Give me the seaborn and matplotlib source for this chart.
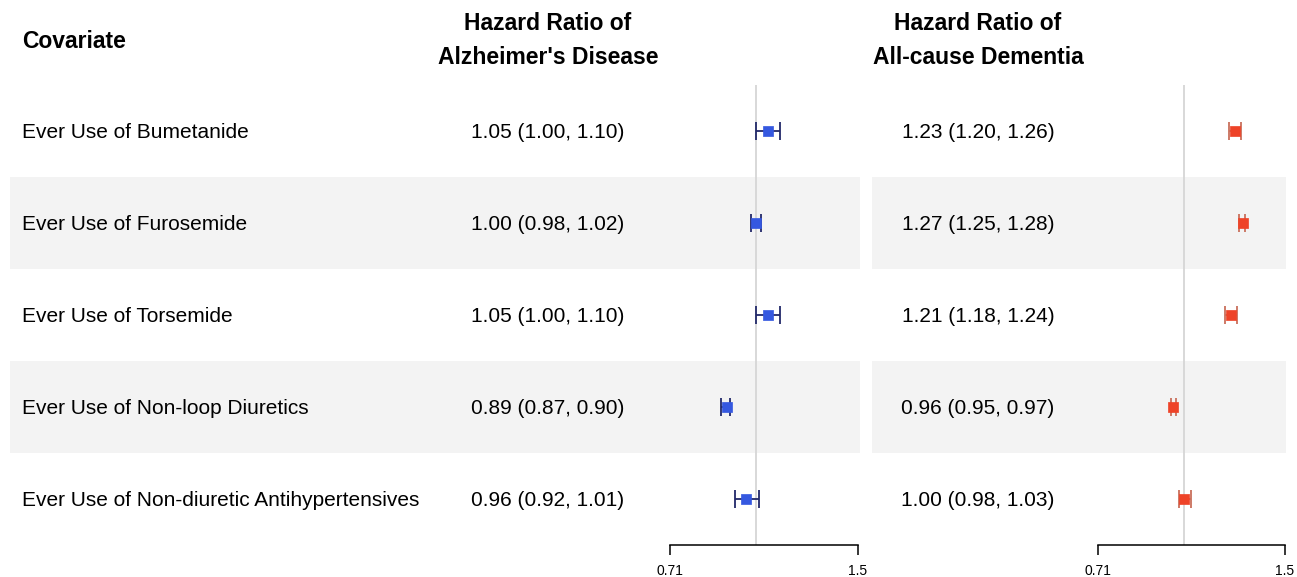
import numpy as np
import pandas as pd
import matplotlib
matplotlib.use("Agg")
import matplotlib.pyplot as plt
import seaborn as sns
from matplotlib.patches import Rectangle
from matplotlib.ticker import FixedLocator, NullLocator

# data
covariates = ["Ever Use of Bumetanide",
              "Ever Use of Furosemide",
              "Ever Use of Torsemide",
              "Ever Use of Non-loop Diuretics",
              "Ever Use of Non-diuretic Antihypertensives"]
ad_hr = [1.05, 1.00, 1.05, 0.89, 0.96]
ad_lo = [1.00, 0.98, 1.00, 0.87, 0.92]
ad_hi = [1.10, 1.02, 1.10, 0.90, 1.01]
dem_hr = [1.23, 1.27, 1.21, 0.96, 1.00]
dem_lo = [1.20, 1.25, 1.18, 0.95, 0.98]
dem_hi = [1.26, 1.28, 1.24, 0.97, 1.03]
x_ticks = [0.71, 1.5]
x_tick_labels = ["0.71", "1.5"]

sns.set_theme(style="white")
plt.rcParams['font.family'] = ['Liberation Sans', 'DejaVu Sans']
plt.rcParams['text.color'] = 'black'

W, H = 1297, 577
fig = plt.figure(figsize=(W / 100, H / 100), dpi=100)

# background axes in pixel units
bg = fig.add_axes([0, 0, 1, 1])
bg.set_xlim(0, W)
bg.set_ylim(H, 0)
bg.axis("off")

row0, step = 131, 92  # pixel centre of first row, row height
n = len(covariates)

def row_px(i):
    return row0 + step * i

# shaded bands on every second row
for i in range(n):
    if i % 2 == 1:
        top = row_px(i) - step / 2
        bg.add_patch(Rectangle((10, top), 850, step, color="#f3f3f3", lw=0, zorder=0))
        bg.add_patch(Rectangle((872, top), 414, step, color="#f3f3f3", lw=0, zorder=0))

# headers
hfs = 16.5
bg.text(22, 42, "Covariate", fontsize=hfs, fontweight="bold", va="center", ha="left")
bg.text(548, 23, "Hazard Ratio of", fontsize=hfs, fontweight="bold", va="center", ha="center")
bg.text(548, 58, "Alzheimer's Disease", fontsize=hfs, fontweight="bold", va="center", ha="center")
bg.text(978, 23, "Hazard Ratio of", fontsize=hfs, fontweight="bold", va="center", ha="center")
bg.text(978, 58, "All-cause Dementia", fontsize=hfs, fontweight="bold", va="center", ha="center")

fs = 15
for i in range(n):
    y = row_px(i) + 2
    bg.text(22, y, covariates[i], fontsize=fs, va="center", ha="left")
    bg.text(548, y, f"{ad_hr[i]:.2f} ({ad_lo[i]:.2f}, {ad_hi[i]:.2f})",
            fontsize=fs, va="center", ha="center")
    bg.text(978, y, f"{dem_hr[i]:.2f} ({dem_lo[i]:.2f}, {dem_hi[i]:.2f})",
            fontsize=fs, va="center", ha="center")

# forest panels
y_top, y_bot = 85, 545
panels = [
    (670, 188, ad_hr, ad_lo, ad_hi, "#3558e0", "#22296a"),
    (1098, 187, dem_hr, dem_lo, dem_hi, "#ee4328", "#c9705c"),
]
for x0, w, hr, lo, hi, mcol, ecol in panels:
    ax = fig.add_axes([x0 / W, (H - y_bot) / H, w / W, (y_bot - y_top) / H])
    ax.patch.set_alpha(0)
    df = pd.DataFrame({"row": np.arange(n), "hr": hr, "lo": lo, "hi": hi})
    ax.axvline(1.0, color="#d6d6d6", lw=1.3, zorder=1)
    ax.errorbar(df["hr"], df["row"],
                xerr=[df["hr"] - df["lo"], df["hi"] - df["hr"]],
                fmt="none", ecolor=ecol, elinewidth=1.3, capsize=6.8, capthick=1.3, zorder=2)
    sns.scatterplot(data=df, x="hr", y="row", marker="s", s=55, color=mcol,
                    edgecolor=mcol, linewidth=0.5, ax=ax, legend=False, zorder=3)
    ax.set_xscale("log")
    ax.set_xlim(0.71, 1.5)
    ax.set_ylim(n - 0.5, -0.5)
    ax.xaxis.set_major_locator(FixedLocator(x_ticks))
    ax.xaxis.set_minor_locator(NullLocator())
    ax.set_xticklabels(x_tick_labels)
    ax.set_yticks([])
    ax.set_xlabel("")
    ax.set_ylabel("")
    for s in ["top", "left", "right"]:
        ax.spines[s].set_visible(False)
    ax.spines["bottom"].set_color("black")
    ax.spines["bottom"].set_linewidth(1.1)
    ax.tick_params(axis="x", direction="out", length=7, width=1.1, color="black",
                   labelsize=10, labelcolor="black", pad=7, bottom=True)

fig.savefig("out.png", dpi=100)
